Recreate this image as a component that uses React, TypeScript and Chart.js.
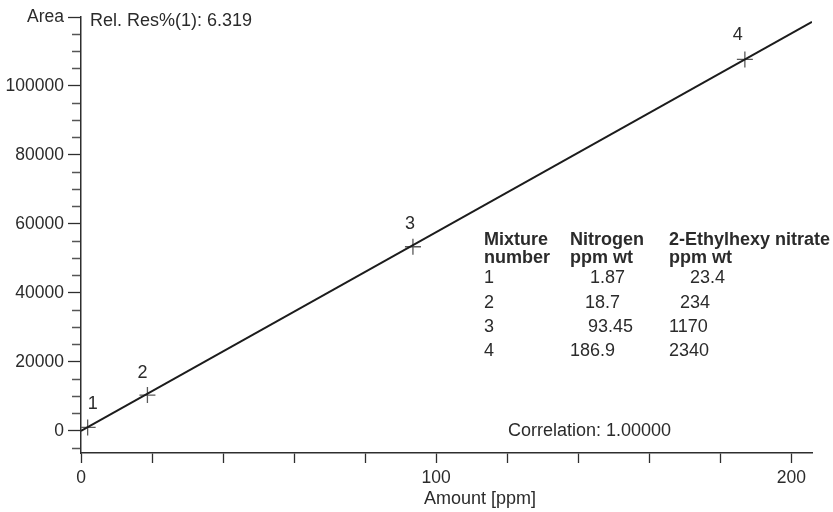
import React, { useEffect, useRef } from 'react';
import { Chart, registerables } from 'chart.js';

Chart.register(...registerables);

// ---- data ----
const mixtureNumbers = ['1', '2', '3', '4'];
const nitrogenPpm = [1.87, 18.7, 93.45, 186.9];
const nitrogenText = ['1.87', '18.7', '93.45', '186.9'];
const ehnText = ['23.4', '234', '1170', '2340'];
const areaValues = [1000, 10400, 53400, 107700];
const fitX = [0, 205.8];
const fitY = [0, 118600];
const tableHeader1 = ['Mixture', 'Nitrogen', '2-Ethylhexy nitrate'];
const tableHeader2 = ['number', 'ppm wt', 'ppm wt'];
const relResText = 'Rel. Res%(1): 6.319';
const correlationText = 'Correlation: 1.00000';
const xTicks = [0, 20, 40, 60, 80, 100, 120, 140, 160, 180, 200];
const xLabeledTicks = [0, 100, 200];
const yTicks = [-5000, 0, 5000, 10000, 15000, 20000, 25000, 30000, 35000, 40000, 45000, 50000, 55000, 60000, 65000, 70000, 75000, 80000, 85000, 90000, 95000, 100000, 105000, 110000, 115000, 120000];
const yLabeledTicks = [0, 20000, 40000, 60000, 80000, 100000];
const yAxisName = 'Area';
const yAxisNameAt = 120000;
const xAxisName = 'Amount [ppm]';

// ---- layout / style ----
const W = 833;
const H = 512;
const SANS = '"Liberation Sans", Arial, sans-serif';
const TEXT = '#2b2b2b';
const AXIS = '#2e2e2e';
const colX = [484, 570, 669];
const nitroX = [590, 585, 588, 570];
const ehnX = [690, 680, 669, 669];
const headerY = [240, 258];
const rowY = [278, 303, 327, 351];
const labelOffsets = [
  [5, -23],
  [-5, -22],
  [-3, -23],
  [-7, -24],
];

const isMajorY = (v: number) => v === yAxisNameAt || yLabeledTicks.includes(v);

const annotate = {
  id: 'annotate',
  afterDraw(chart: any) {
    const ctx = chart.ctx as CanvasRenderingContext2D;
    const xs = chart.scales.x;
    const ys = chart.scales.y;
    ctx.save();
    ctx.fillStyle = TEXT;
    ctx.textBaseline = 'middle';
    ctx.textAlign = 'left';

    ctx.font = `18px ${SANS}`;
    ctx.fillText(relResText, 90, 21);
    ctx.fillText(correlationText, 508, 431);
    ctx.fillText(xAxisName, 424, 499);

    ctx.font = `bold 18px ${SANS}`;
    tableHeader1.forEach((t, i) => ctx.fillText(t, colX[i], headerY[0]));
    tableHeader2.forEach((t, i) => ctx.fillText(t, colX[i], headerY[1]));

    ctx.font = `18px ${SANS}`;
    mixtureNumbers.forEach((m, i) => {
      ctx.fillText(m, colX[0], rowY[i]);
      ctx.fillText(nitrogenText[i], nitroX[i], rowY[i]);
      ctx.fillText(ehnText[i], ehnX[i], rowY[i]);
    });

    ctx.textAlign = 'center';
    mixtureNumbers.forEach((m, i) => {
      const px = xs.getPixelForValue(nitrogenPpm[i]) + labelOffsets[i][0];
      const py = ys.getPixelForValue(areaValues[i]) + labelOffsets[i][1];
      ctx.fillText(m, px, py);
    });
    ctx.restore();
  },
};

export default function App() {
  const ref = useRef<HTMLCanvasElement | null>(null);

  useEffect(() => {
    document.body.style.margin = '0';
    if (!ref.current) return;
    const chart = new Chart(ref.current, {
      type: 'scatter',
      data: {
        datasets: [
          {
            type: 'line',
            data: fitX.map((x, i) => ({ x, y: fitY[i] })),
            borderColor: '#1c1c1c',
            borderWidth: 2,
            pointRadius: 0,
            fill: false,
          } as any,
          {
            data: nitrogenPpm.map((x, i) => ({ x, y: areaValues[i] })),
            pointStyle: 'cross',
            pointRadius: 8,
            borderColor: '#5a5a5a',
            borderWidth: 1.3,
            showLine: false,
          },
        ],
      },
      options: {
        animation: false,
        responsive: false,
        events: [],
        layout: { padding: { top: 17, right: 21, left: 0, bottom: 0 } },
        plugins: { legend: { display: false }, tooltip: { enabled: false } },
        scales: {
          x: {
            type: 'linear',
            min: 0,
            max: 205.8,
            afterBuildTicks: (s: any) => {
              s.ticks = xTicks.map((value) => ({ value }));
            },
            afterFit: (s: any) => {
              s.height = H - 453;
            },
            ticks: {
              autoSkip: false,
              maxRotation: 0,
              minRotation: 0,
              padding: 5,
              color: TEXT,
              font: { family: SANS, size: 17.5 },
              callback: (v: any) => (xLabeledTicks.includes(v) ? String(v) : ''),
            },
            grid: {
              drawOnChartArea: false,
              drawTicks: true,
              tickLength: 10,
              tickColor: AXIS,
              tickWidth: 1.3,
            },
            border: { display: true, color: AXIS, width: 1.5 },
          },
          y: {
            type: 'linear',
            min: -6400,
            max: 120000,
            afterBuildTicks: (s: any) => {
              s.ticks = yTicks.map((value) => ({ value }));
            },
            afterFit: (s: any) => {
              s.width = 81;
            },
            ticks: {
              autoSkip: false,
              padding: 4,
              color: TEXT,
              font: { family: SANS, size: 17.5 },
              callback: (v: any) => {
                if (v === yAxisNameAt) return yAxisName;
                return yLabeledTicks.includes(v) ? String(v) : '';
              },
            },
            grid: {
              drawOnChartArea: false,
              drawTicks: true,
              tickLength: 13,
              tickWidth: 1.3,
              tickColor: (c: any) => (c.tick && isMajorY(c.tick.value) ? AXIS : '#555'),
              tickBorderDash: (c: any) => (c.tick && isMajorY(c.tick.value) ? [] : [0, 4, 100]),
            } as any,
            border: { display: true, color: AXIS, width: 1.5 },
          },
        },
      },
      plugins: [annotate],
    } as any);
    return () => chart.destroy();
  }, []);

  return (
    <div style={{ width: W, height: H, background: '#fff' }}>
      <canvas ref={ref} width={W} height={H} />
    </div>
  );
}
